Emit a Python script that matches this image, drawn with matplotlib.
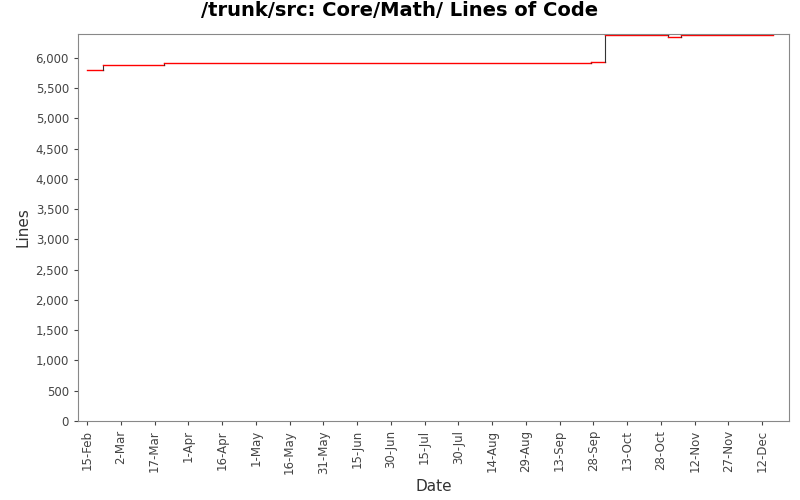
import numpy as np
import matplotlib.pyplot as plt
import matplotlib.dates as mdates
import datetime as dt

start = dt.date(2009, 2, 15)
day_offsets = [0, 7, 34, 224, 230, 258, 264, 305]
lines = [5790, 5880, 5905, 5930, 6370, 6350, 6370, 6370]

dates = [start + dt.timedelta(days=d) for d in day_offsets]

fig = plt.figure(figsize=(8, 5), dpi=100)
ax = fig.add_axes([0.0975, 0.158, 0.889, 0.775])

# horizontal runs in red, vertical jumps in dark grey
for i in range(len(dates) - 1):
    ax.plot([dates[i], dates[i + 1]], [lines[i], lines[i]], color='red', lw=1)
    ax.plot([dates[i + 1], dates[i + 1]], [lines[i], lines[i + 1]], color='#333333', lw=0.8)

ax.set_xlim(start - dt.timedelta(days=4), start + dt.timedelta(days=312))
ax.set_ylim(0, 6400)
ax.set_yticks(np.arange(0, 6001, 500))
ax.yaxis.set_major_formatter(plt.FuncFormatter(lambda v, p: f'{int(v):,}'))
ax.xaxis.set_major_locator(
    plt.FixedLocator([mdates.date2num(start + dt.timedelta(days=15 * k)) for k in range(21)]))
ax.xaxis.set_major_formatter(mdates.DateFormatter('%-d-%b'))
for lbl in ax.get_xticklabels():
    lbl.set_rotation(90)
ax.tick_params(labelsize=8.5, colors='#444444', length=3)
for s in ax.spines.values():
    s.set_color('#888888')

ax.set_xlabel('Date', fontsize=11, color='#333333')
ax.set_ylabel('Lines', fontsize=11, color='#333333')
fig.suptitle('/trunk/src: Core/Math/ Lines of Code', fontsize=14, fontweight='bold', y=0.998)

fig.savefig('out.png', dpi=100)
